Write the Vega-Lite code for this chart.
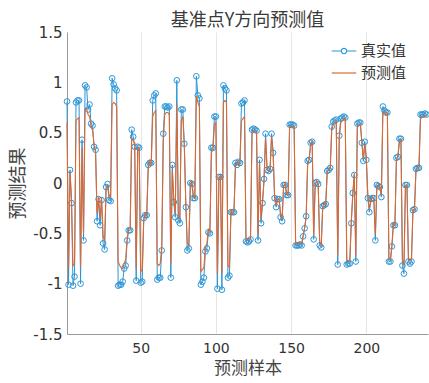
{
"$schema": "https://vega.github.io/schema/vega-lite/v6.json",
"width": 361, "height": 302,
"autosize": {"type": "none"},
"padding": {"left": 67, "top": 32, "right": 1, "bottom": 49},
"background": "white",
"title": {"text": "基准点Y方向预测值", "font": "Noto Sans CJK SC", "fontSize": 18, "fontWeight": "normal", "color": "#3a3a3a", "anchor": "middle", "offset": -5},
"config": {"view": {"stroke": null}},
"data": {"values": [
{"sample":1,"actual":0.81,"predicted":0.60},{"sample":2,"actual":-1.01,"predicted":-0.85},{"sample":3,"actual":0.13,"predicted":0.10},{"sample":4,"actual":-0.20,"predicted":-0.15},{"sample":5,"actual":-1.02,"predicted":-0.82},{"sample":6,"actual":-0.93,"predicted":-0.80},{"sample":7,"actual":0.80,"predicted":0.62},{"sample":8,"actual":0.82,"predicted":0.64},{"sample":9,"actual":0.82,"predicted":0.65},{"sample":10,"actual":-1.00,"predicted":-0.84},
{"sample":11,"actual":0.43,"predicted":0.35},{"sample":12,"actual":-0.57,"predicted":-0.50},{"sample":13,"actual":0.97,"predicted":0.72},{"sample":14,"actual":0.95,"predicted":0.74},{"sample":15,"actual":0.73,"predicted":0.68},{"sample":16,"actual":0.78,"predicted":0.66},{"sample":17,"actual":0.59,"predicted":0.57},{"sample":18,"actual":0.57,"predicted":0.52},{"sample":19,"actual":0.36,"predicted":0.38},{"sample":20,"actual":0.33,"predicted":0.30},
{"sample":21,"actual":-0.38,"predicted":-0.30},{"sample":22,"actual":-0.16,"predicted":-0.14},{"sample":23,"actual":-0.42,"predicted":-0.35},{"sample":24,"actual":-0.17,"predicted":-0.15},{"sample":25,"actual":-0.60,"predicted":-0.52},{"sample":26,"actual":-0.66,"predicted":-0.58},{"sample":27,"actual":-0.04,"predicted":-0.06},{"sample":28,"actual":-0.01,"predicted":-0.03},{"sample":29,"actual":-0.17,"predicted":-0.12},{"sample":30,"actual":-0.18,"predicted":-0.15},
{"sample":31,"actual":1.04,"predicted":0.78},{"sample":32,"actual":0.98,"predicted":0.80},{"sample":33,"actual":0.94,"predicted":0.79},{"sample":34,"actual":0.92,"predicted":0.76},{"sample":35,"actual":-1.02,"predicted":-0.78},{"sample":36,"actual":-1.01,"predicted":-0.82},{"sample":37,"actual":-1.01,"predicted":-0.84},{"sample":38,"actual":-0.98,"predicted":-0.85},{"sample":39,"actual":-0.85,"predicted":-0.80},{"sample":40,"actual":-0.82,"predicted":-0.76},
{"sample":41,"actual":-0.57,"predicted":-0.55},{"sample":42,"actual":-0.47,"predicted":-0.45},{"sample":43,"actual":-0.47,"predicted":-0.44},{"sample":44,"actual":0.53,"predicted":0.45},{"sample":45,"actual":0.46,"predicted":0.42},{"sample":46,"actual":0.36,"predicted":0.40},{"sample":47,"actual":-0.97,"predicted":-0.85},{"sample":48,"actual":0.36,"predicted":0.32},{"sample":49,"actual":0.35,"predicted":0.36},{"sample":50,"actual":-0.99,"predicted":-0.88},
{"sample":51,"actual":-0.98,"predicted":-0.86},{"sample":52,"actual":-0.35,"predicted":-0.38},{"sample":53,"actual":-0.32,"predicted":-0.30},{"sample":54,"actual":-0.32,"predicted":-0.33},{"sample":55,"actual":0.18,"predicted":0.15},{"sample":56,"actual":0.20,"predicted":0.22},{"sample":57,"actual":0.20,"predicted":0.18},{"sample":58,"actual":0.82,"predicted":0.66},{"sample":59,"actual":0.87,"predicted":0.70},{"sample":60,"actual":0.89,"predicted":0.72},
{"sample":61,"actual":-0.96,"predicted":-0.80},{"sample":62,"actual":-0.94,"predicted":-0.82},{"sample":63,"actual":-0.94,"predicted":-0.80},{"sample":64,"actual":-0.67,"predicted":-0.62},{"sample":65,"actual":0.49,"predicted":0.40},{"sample":66,"actual":0.76,"predicted":0.68},{"sample":67,"actual":0.76,"predicted":0.70},{"sample":68,"actual":0.75,"predicted":0.70},{"sample":69,"actual":0.76,"predicted":0.68},{"sample":70,"actual":-0.94,"predicted":-0.80},
{"sample":71,"actual":0.18,"predicted":0.12},{"sample":72,"actual":-0.19,"predicted":-0.15},{"sample":73,"actual":-0.34,"predicted":-0.30},{"sample":74,"actual":1.02,"predicted":0.78},{"sample":75,"actual":-0.37,"predicted":-0.30},{"sample":76,"actual":-0.40,"predicted":-0.36},{"sample":77,"actual":0.73,"predicted":0.62},{"sample":78,"actual":0.73,"predicted":0.66},{"sample":79,"actual":0.39,"predicted":0.36},{"sample":80,"actual":-0.24,"predicted":-0.20},
{"sample":81,"actual":-0.67,"predicted":-0.60},{"sample":82,"actual":-0.65,"predicted":-0.62},{"sample":83,"actual":0.00,"predicted":-0.02},{"sample":84,"actual":-0.01,"predicted":0.02},{"sample":85,"actual":-0.15,"predicted":-0.12},{"sample":86,"actual":-0.15,"predicted":-0.16},{"sample":87,"actual":1.06,"predicted":0.86},{"sample":88,"actual":0.87,"predicted":0.80},{"sample":89,"actual":0.84,"predicted":0.76},{"sample":90,"actual":-1.01,"predicted":-0.88},
{"sample":91,"actual":-0.98,"predicted":-0.86},{"sample":92,"actual":-0.94,"predicted":-0.84},{"sample":93,"actual":-0.68,"predicted":-0.64},{"sample":94,"actual":-0.65,"predicted":-0.60},{"sample":95,"actual":-0.49,"predicted":-0.46},{"sample":96,"actual":-0.50,"predicted":-0.48},{"sample":97,"actual":0.35,"predicted":0.30},{"sample":98,"actual":0.35,"predicted":0.33},{"sample":99,"actual":0.66,"predicted":0.58},{"sample":100,"actual":0.66,"predicted":0.60},
{"sample":101,"actual":-1.05,"predicted":-0.90},{"sample":102,"actual":0.06,"predicted":0.04},{"sample":103,"actual":0.06,"predicted":0.08},{"sample":104,"actual":-1.06,"predicted":-0.90},{"sample":105,"actual":0.97,"predicted":0.80},{"sample":106,"actual":0.94,"predicted":0.82},{"sample":107,"actual":0.92,"predicted":0.80},{"sample":108,"actual":-0.94,"predicted":-0.82},{"sample":109,"actual":-0.92,"predicted":-0.84},{"sample":110,"actual":-0.29,"predicted":-0.26},
{"sample":111,"actual":-0.29,"predicted":-0.30},{"sample":112,"actual":-0.29,"predicted":-0.28},{"sample":113,"actual":0.20,"predicted":0.16},{"sample":114,"actual":0.18,"predicted":0.20},{"sample":115,"actual":0.21,"predicted":0.18},{"sample":116,"actual":0.20,"predicted":0.22},{"sample":117,"actual":0.79,"predicted":0.62},{"sample":118,"actual":0.80,"predicted":0.64},{"sample":119,"actual":0.82,"predicted":0.66},{"sample":120,"actual":-0.58,"predicted":-0.55},
{"sample":121,"actual":-0.59,"predicted":-0.57},{"sample":122,"actual":-0.58,"predicted":-0.56},{"sample":123,"actual":-0.56,"predicted":-0.54},{"sample":124,"actual":0.53,"predicted":0.48},{"sample":125,"actual":0.54,"predicted":0.52},{"sample":126,"actual":0.53,"predicted":0.51},{"sample":127,"actual":0.52,"predicted":0.50},{"sample":128,"actual":-0.57,"predicted":-0.52},{"sample":129,"actual":0.23,"predicted":0.20},{"sample":130,"actual":-0.40,"predicted":-0.36},
{"sample":131,"actual":-0.20,"predicted":-0.18},{"sample":132,"actual":0.04,"predicted":0.02},{"sample":133,"actual":0.49,"predicted":0.44},{"sample":134,"actual":0.13,"predicted":0.16},{"sample":135,"actual":0.12,"predicted":0.12},{"sample":136,"actual":0.14,"predicted":0.13},{"sample":137,"actual":0.49,"predicted":0.46},{"sample":138,"actual":0.30,"predicted":0.32},{"sample":139,"actual":-0.15,"predicted":-0.12},{"sample":140,"actual":-0.24,"predicted":-0.22},
{"sample":141,"actual":-0.16,"predicted":-0.17},{"sample":142,"actual":-0.16,"predicted":-0.15},{"sample":143,"actual":-0.34,"predicted":-0.30},{"sample":144,"actual":-0.38,"predicted":-0.36},{"sample":145,"actual":-0.02,"predicted":-0.04},{"sample":146,"actual":-0.02,"predicted":0.00},{"sample":147,"actual":-0.12,"predicted":-0.10},{"sample":148,"actual":-0.12,"predicted":-0.13},{"sample":149,"actual":0.58,"predicted":0.55},{"sample":150,"actual":0.58,"predicted":0.57},
{"sample":151,"actual":0.58,"predicted":0.56},{"sample":152,"actual":0.57,"predicted":0.56},{"sample":153,"actual":-0.62,"predicted":-0.60},{"sample":154,"actual":-0.62,"predicted":-0.61},{"sample":155,"actual":-0.62,"predicted":-0.60},{"sample":156,"actual":-0.61,"predicted":-0.60},{"sample":157,"actual":-0.62,"predicted":-0.60},{"sample":158,"actual":-0.53,"predicted":-0.52},{"sample":159,"actual":-0.45,"predicted":-0.44},{"sample":160,"actual":-0.33,"predicted":-0.34},
{"sample":161,"actual":0.22,"predicted":0.18},{"sample":162,"actual":0.23,"predicted":0.24},{"sample":163,"actual":0.40,"predicted":0.38},{"sample":164,"actual":0.41,"predicted":0.42},{"sample":165,"actual":-0.56,"predicted":-0.52},{"sample":166,"actual":0.00,"predicted":-0.02},{"sample":167,"actual":0.01,"predicted":0.02},{"sample":168,"actual":-0.01,"predicted":-0.02},{"sample":169,"actual":-0.62,"predicted":-0.58},{"sample":170,"actual":-0.64,"predicted":-0.62},
{"sample":171,"actual":-0.23,"predicted":-0.24},{"sample":172,"actual":-0.22,"predicted":-0.20},{"sample":173,"actual":-0.21,"predicted":-0.22},{"sample":174,"actual":0.12,"predicted":0.10},{"sample":175,"actual":0.13,"predicted":0.14},{"sample":176,"actual":0.15,"predicted":0.14},{"sample":177,"actual":0.56,"predicted":0.52},{"sample":178,"actual":0.61,"predicted":0.58},{"sample":179,"actual":0.62,"predicted":0.60},{"sample":180,"actual":0.63,"predicted":0.61},
{"sample":181,"actual":-0.81,"predicted":-0.72},{"sample":182,"actual":0.47,"predicted":0.44},{"sample":183,"actual":0.64,"predicted":0.60},{"sample":184,"actual":0.65,"predicted":0.62},{"sample":185,"actual":0.66,"predicted":0.63},{"sample":186,"actual":0.65,"predicted":0.64},{"sample":187,"actual":-0.81,"predicted":-0.76},{"sample":188,"actual":-0.80,"predicted":-0.78},{"sample":189,"actual":-0.80,"predicted":-0.77},{"sample":190,"actual":-0.40,"predicted":-0.38},
{"sample":191,"actual":-0.10,"predicted":-0.12},{"sample":192,"actual":0.08,"predicted":0.10},{"sample":193,"actual":-0.78,"predicted":-0.72},{"sample":194,"actual":0.59,"predicted":0.55},{"sample":195,"actual":0.60,"predicted":0.58},{"sample":196,"actual":0.60,"predicted":0.59},{"sample":197,"actual":0.40,"predicted":0.42},{"sample":198,"actual":0.22,"predicted":0.24},{"sample":199,"actual":0.41,"predicted":0.38},{"sample":200,"actual":0.23,"predicted":0.25},
{"sample":201,"actual":-0.15,"predicted":-0.12},{"sample":202,"actual":-0.29,"predicted":-0.26},{"sample":203,"actual":-0.16,"predicted":-0.18},{"sample":204,"actual":-0.15,"predicted":-0.14},{"sample":205,"actual":-0.15,"predicted":-0.16},{"sample":206,"actual":-0.57,"predicted":-0.52},{"sample":207,"actual":-0.02,"predicted":-0.04},{"sample":208,"actual":-0.03,"predicted":-0.02},{"sample":209,"actual":-0.04,"predicted":-0.05},{"sample":210,"actual":-0.14,"predicted":-0.12},
{"sample":211,"actual":0.76,"predicted":0.70},{"sample":212,"actual":0.72,"predicted":0.71},{"sample":213,"actual":0.70,"predicted":0.68},{"sample":214,"actual":0.70,"predicted":0.69},{"sample":215,"actual":-0.78,"predicted":-0.74},{"sample":216,"actual":-0.78,"predicted":-0.76},{"sample":217,"actual":-0.63,"predicted":-0.62},{"sample":218,"actual":-0.42,"predicted":-0.40},{"sample":219,"actual":-0.42,"predicted":-0.43},{"sample":220,"actual":0.25,"predicted":0.22},
{"sample":221,"actual":0.26,"predicted":0.27},{"sample":222,"actual":0.44,"predicted":0.40},{"sample":223,"actual":0.44,"predicted":0.44},{"sample":224,"actual":-0.82,"predicted":-0.76},{"sample":225,"actual":-0.90,"predicted":-0.82},{"sample":226,"actual":-0.02,"predicted":-0.04},{"sample":227,"actual":-0.02,"predicted":-0.01},{"sample":228,"actual":-0.78,"predicted":-0.74},{"sample":229,"actual":-0.80,"predicted":-0.77},{"sample":230,"actual":-0.78,"predicted":-0.77},
{"sample":231,"actual":-0.27,"predicted":-0.26},{"sample":232,"actual":-0.26,"predicted":-0.27},{"sample":233,"actual":0.14,"predicted":0.12},{"sample":234,"actual":0.15,"predicted":0.15},{"sample":235,"actual":0.15,"predicted":0.16},{"sample":236,"actual":0.68,"predicted":0.63},{"sample":237,"actual":0.68,"predicted":0.66},{"sample":238,"actual":0.68,"predicted":0.67},{"sample":239,"actual":0.69,"predicted":0.66},{"sample":240,"actual":0.68,"predicted":0.67}
]},
"encoding": {
  "x": {"field": "sample", "type": "quantitative",
        "scale": {"domain": [1, 241], "nice": false, "zero": false},
        "axis": {"values": [50, 100, 150, 200], "grid": true, "gridColor": "#e6e6e6", "domainColor": "#9a9a9a", "ticks": false,
                 "labelFont": "DejaVu Sans", "labelFontSize": 14, "labelColor": "#333333", "labelPadding": 7,
                 "title": "预测样本", "titleFont": "Noto Sans CJK SC", "titleFontSize": 17, "titleFontWeight": "normal", "titleColor": "#444444", "titlePadding": 5}}
},
"layer": [
  {"mark": {"type": "line", "strokeWidth": 1, "point": {"filled": false, "size": 32, "strokeWidth": 1}},
   "encoding": {
     "y": {"field": "actual", "type": "quantitative",
           "scale": {"domain": [-1.5, 1.5], "nice": false},
           "axis": {"values": [-1.5, -1, -0.5, 0, 0.5, 1, 1.5], "labelExpr": "'' + datum.value", "grid": false, "domainColor": "#9a9a9a", "ticks": false,
                    "labelFont": "DejaVu Sans", "labelFontSize": 15, "labelColor": "#333333", "labelPadding": 5,
                    "title": "预测结果", "titleFont": "Noto Sans CJK SC", "titleFontSize": 18, "titleFontWeight": "normal", "titleColor": "#444444", "titlePadding": 5}},
     "color": {"datum": "真实值", "type": "nominal",
               "scale": {"domain": ["真实值", "预测值"], "range": ["#2b95d6", "#e2672e"]},
               "legend": {"orient": "none", "legendX": 264, "legendY": 6, "title": null, "symbolType": "stroke", "symbolSize": 600, "symbolStrokeWidth": 1.2,
                          "labelFont": "Noto Sans CJK SC", "labelFontSize": 15, "labelColor": "#333333", "rowPadding": 1, "labelOffset": 4,
                          "encode": {"symbols": {"update": {"shape": {"signal": "datum.value === '真实值' ? 'M-1,0H-0.22M0.22,0H1M0.22,0A0.22,0.22 0 1,1 -0.22,0A0.22,0.22 0 1,1 0.22,0' : 'stroke'"}, "fill": {"value": "transparent"}}}}}}
   }},
  {"mark": {"type": "line", "strokeWidth": 1.1},
   "encoding": {
     "y": {"field": "predicted", "type": "quantitative"},
     "color": {"datum": "预测值", "type": "nominal"}
   }}
]
}
